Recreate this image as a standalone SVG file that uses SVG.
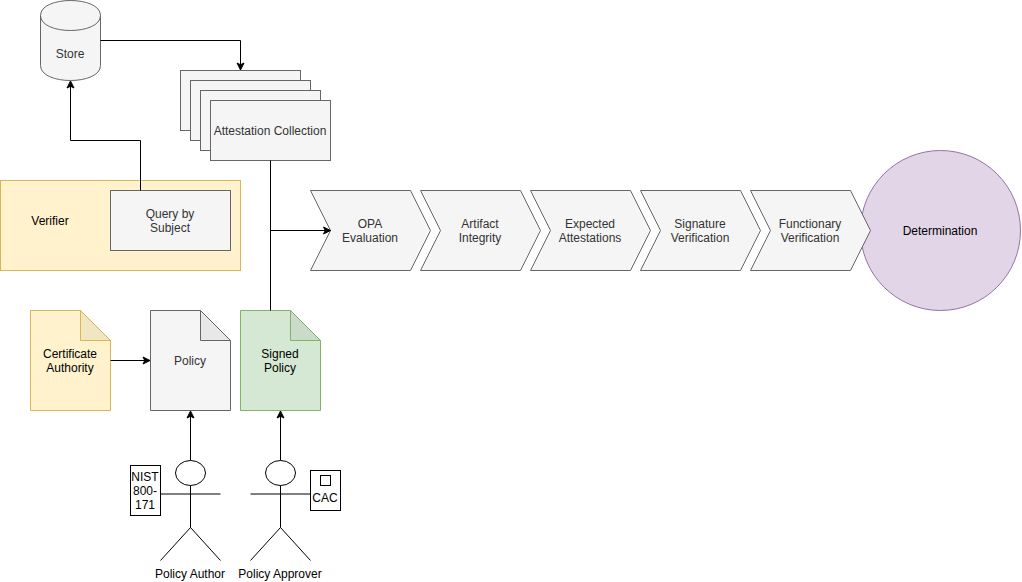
<svg xmlns="http://www.w3.org/2000/svg" width="1022" height="582" viewBox="0 0 1022 582">
<style>
text{font-family:"Liberation Sans",Arial,sans-serif;font-size:12px;text-anchor:middle;fill:#000}
.g{fill:#f5f5f5;stroke:#666}
.g2{fill:#333}
.y{fill:#fff2cc;stroke:#d6b656}
.n{fill:#d5e8d4;stroke:#82b366}
.p{fill:#e1d5e7;stroke:#9673a6}
.fold{fill:#000;fill-opacity:.05;stroke:none}
.k{fill:#fff;stroke:#000}
.l{fill:none;stroke:#000}
.g text,.t3{fill:#333;stroke:none}
text{stroke:none}
</style>
<defs>
<marker id="arrow" markerUnits="userSpaceOnUse" markerWidth="10" markerHeight="10" refX="7" refY="5" orient="auto" overflow="visible">
<path d="M7 5L0 8.5L1.75 5L0 1.5Z" fill="#000" stroke="#000"/>
</marker>
</defs>
<g id="verifier"><rect class="y" x="0.5" y="180.5" width="240" height="90"/><text x="50" y="225">Verifier</text></g>
<g id="query"><rect class="g" x="110.5" y="190.5" width="120" height="60"/><text class="t3" x="170" y="218">Query by</text><text class="t3" x="170" y="232">Subject</text></g>
<g id="store"><path class="g" d="M40.5 15.5C40.5-4.5 100.5-4.5 100.5 15.5L100.5 65.5C100.5 85.5 40.5 85.5 40.5 65.5Z"/><path class="l" style="stroke:#666" d="M40.5 15.5C40.5 35.5 100.5 35.5 100.5 15.5"/><text class="t3" x="70" y="58">Store</text></g>
<g id="attestation-collection">
<rect class="g" x="180.5" y="70.5" width="120" height="60"/>
<rect class="g" x="190.5" y="80.5" width="120" height="60"/>
<rect class="g" x="200.5" y="90.5" width="120" height="60"/>
<rect class="g" x="210.5" y="100.5" width="120" height="60"/>
<text class="t3" x="270" y="135">Attestation Collection</text></g>
<g id="determination"><circle class="p" cx="940.5" cy="230.5" r="80"/><text x="940" y="235">Determination</text></g>
<g id="opa"><path class="g" d="M310.5 190.5H410.5L430.5 230.5L410.5 270.5H310.5L330.5 230.5Z"/><text class="t3" x="370" y="228">OPA</text><text class="t3" x="370" y="242">Evaluation</text></g>
<g id="artifact"><path class="g" d="M420.5 190.5H520.5L540.5 230.5L520.5 270.5H420.5L440.5 230.5Z"/><text class="t3" x="480" y="228">Artifact</text><text class="t3" x="480" y="242">Integrity</text></g>
<g id="expected"><path class="g" d="M530.5 190.5H630.5L650.5 230.5L630.5 270.5H530.5L550.5 230.5Z"/><text class="t3" x="590" y="228">Expected</text><text class="t3" x="590" y="242">Attestations</text></g>
<g id="signature"><path class="g" d="M640.5 190.5H740.5L760.5 230.5L740.5 270.5H640.5L660.5 230.5Z"/><text class="t3" x="700" y="228">Signature</text><text class="t3" x="700" y="242">Verification</text></g>
<g id="functional"><path class="g" d="M750.5 190.5H850.5L870.5 230.5L850.5 270.5H750.5L770.5 230.5Z"/><text class="t3" x="810" y="228">Functionary</text><text class="t3" x="810" y="242">Verification</text></g>
<g id="ca"><path class="y" d="M30.5 310.5H80.5L110.5 340.5V410.5H30.5Z"/><path class="fold" d="M80.5 310.5V340.5H110.5Z"/><path class="l" style="stroke:#d6b656" d="M80.5 310.5V340.5H110.5"/><text x="70" y="358">Certificate</text><text x="70" y="372">Authority</text></g>
<g id="policy"><path class="g" d="M150.5 310.5H200.5L230.5 340.5V410.5H150.5Z"/><path class="fold" d="M200.5 310.5V340.5H230.5Z"/><path class="l" style="stroke:#666" d="M200.5 310.5V340.5H230.5"/><text class="t3" x="190" y="365">Policy</text></g>
<g id="signed-policy"><path class="n" d="M240.5 310.5H290.5L320.5 340.5V410.5H240.5Z"/><path class="fold" d="M290.5 310.5V340.5H320.5Z"/><path class="l" style="stroke:#82b366" d="M290.5 310.5V340.5H320.5"/><text x="280" y="358">Signed</text><text x="280" y="372">Policy</text></g>
<g id="policy-author"><ellipse class="k" cx="190.5" cy="473" rx="15" ry="12.5"/><path class="l" d="M190.5 485.5V527.5M160.5 494H220.5M160.5 560.5L190.5 527.5L220.5 560.5"/><text x="190" y="578">Policy Author</text></g>
<g id="policy-approver"><ellipse class="k" cx="280.5" cy="473" rx="15" ry="12.5"/><path class="l" d="M280.5 485.5V527.5M250.5 494H310.5M250.5 560.5L280.5 527.5L310.5 560.5"/><text x="280" y="578">Policy Approver</text></g>
<g id="nist"><rect class="k" x="130.5" y="465.5" width="30" height="50"/><text x="145" y="481">NIST</text><text x="145" y="495">800-</text><text x="145" y="509">171</text></g>
<g id="cac"><rect class="k" x="310.5" y="470.5" width="30" height="40"/><rect class="k" x="320.5" y="475.5" width="10" height="10"/><text x="325" y="502">CAC</text></g>
<g id="connectors" class="l">
<path d="M100.5 40.5H240.5V70" marker-end="url(#arrow)"/>
<path d="M140.5 190.5V140.5H70.5V81" marker-end="url(#arrow)"/>
<path d="M270.5 160.5V310.5"/>
<path d="M270.5 230.5H330.5" marker-end="url(#arrow)"/>
<path d="M110.5 360.5H150" marker-end="url(#arrow)"/>
<path d="M190.5 460.5V411" marker-end="url(#arrow)"/>
<path d="M280.5 460.5V411" marker-end="url(#arrow)"/>
</g>
</svg>
